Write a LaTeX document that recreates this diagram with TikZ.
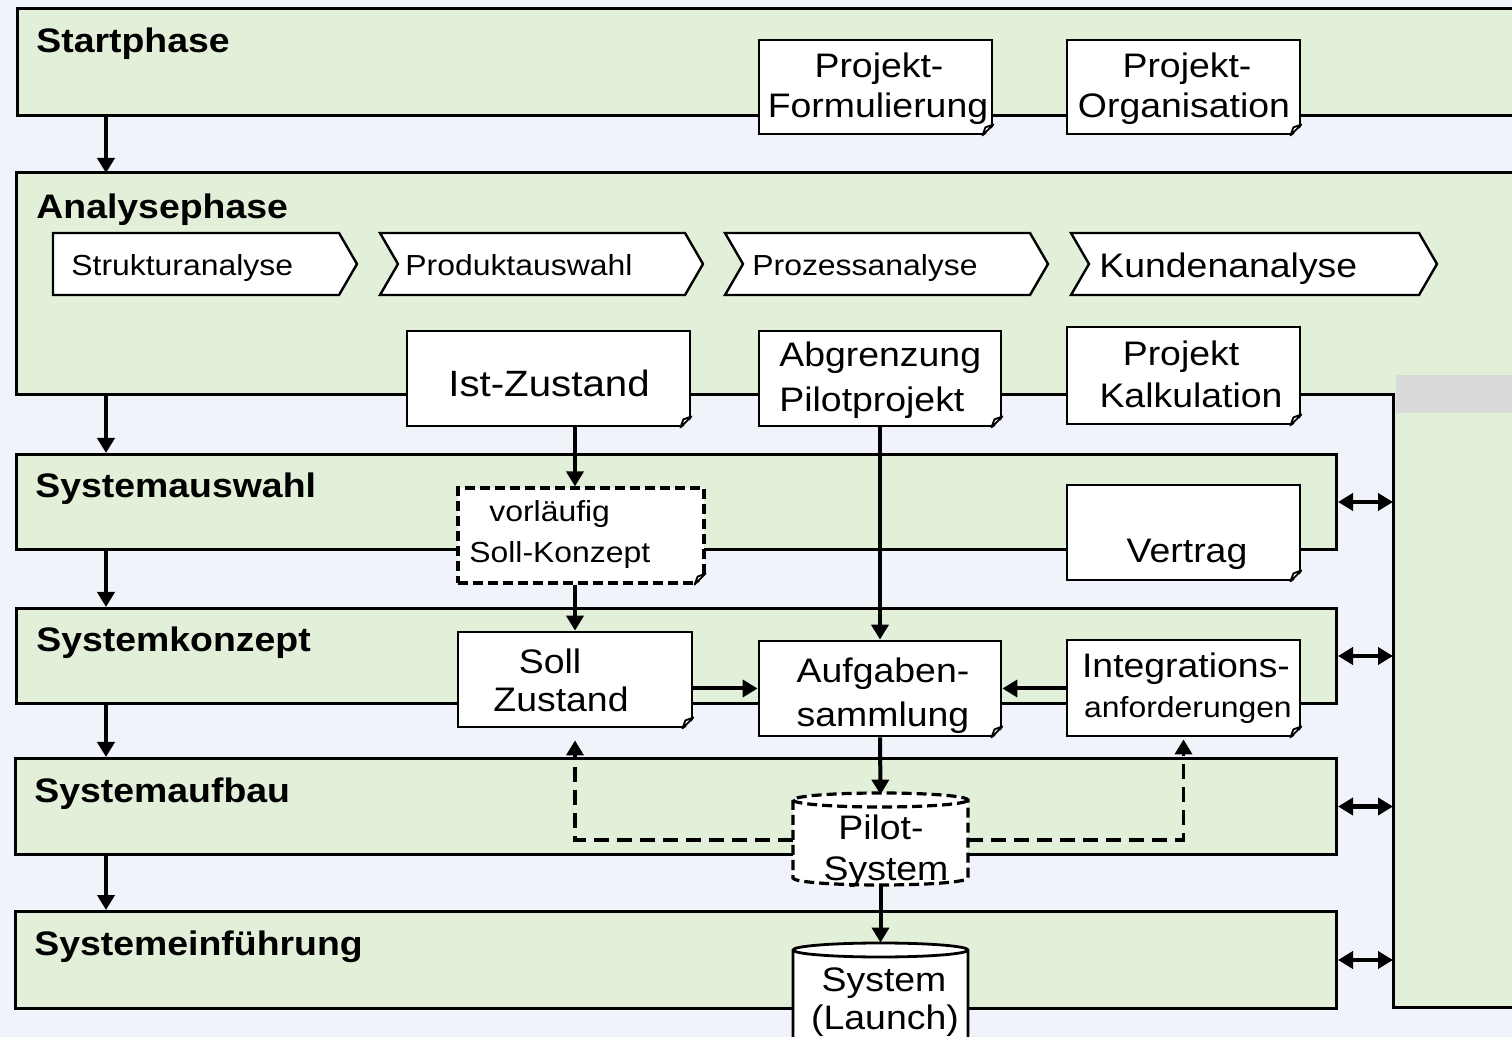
\documentclass[tikz,border=0pt]{standalone}
\usepackage{fontspec}
\setmainfont{Liberation Sans}[FakeStretch=1.1]
\usetikzlibrary{arrows.meta,calc}

\definecolor{bgblue}{RGB}{240,243,250}
\definecolor{panelgreen}{RGB}{226,239,217}
\definecolor{bandgray}{RGB}{217,217,217}

\newcommand\txtmain{\fontsize{17}{20}\selectfont}
\newcommand\txtsmall{\fontsize{14.5}{17}\selectfont}
\newcommand\txtbig{\fontsize{18.3}{22}\selectfont}
\newcommand\txttitle{\fontsize{17}{20}\selectfont\bfseries}

% folded page corner at the lower right of a document box
\newcommand\dogear[1]{%
  \fill[bgblue] ($(#1.south east)+(-11,2)$) -- ($(#1.south east)+(2,2)$) -- ($(#1.south east)+(2,-11)$) -- cycle;
  \filldraw[fill=white, line width=0.9pt, line join=round]
    ($(#1.south east)+(-11,0)$) -- ($(#1.south east)+(0,-11)$) -- ($(#1.south east)+(-8,-8)$) -- cycle;
}

\begin{document}
\begin{tikzpicture}[x=0.5pt, y=-0.5pt,
  panel/.style={draw=black, fill=panelgreen, line width=1.5pt, rectangle, inner sep=0pt, anchor=north west},
  hidden/.style={draw=none, fill=none, rectangle, inner sep=0pt},
  docbox/.style={draw=black, fill=white, line width=1.4pt, rectangle, inner sep=0pt},
  chevron/.style={draw=black, fill=white, line width=1.2pt, line join=miter},
  lbl/.style={inner sep=0pt, anchor=base, font=\txtmain},
  title/.style={inner sep=0pt, anchor=base west, font=\txttitle},
  tip/.style={},
  arr/.style={line width=2pt, -{Triangle[length=7.5pt,width=8.5pt]}},
  dbl/.style={line width=2.4pt, {Triangle[length=7.5pt,width=8.5pt]}-{Triangle[length=7.5pt,width=8.5pt]}},
  fb/.style={line width=1.8pt, dash pattern=on 7.5pt off 4pt, -{Triangle[length=7.5pt,width=8.5pt]}},
  dashbox/.style={line width=1.6pt, dash pattern=on 5pt off 2.5pt}
]
\useasboundingbox (0,0) rectangle (1512,1037);
\fill[bgblue] (0,0) rectangle (1512,1037);

% ---------- phase panels ----------
\node[panel, minimum width=762pt, minimum height=53.5pt] (start) at (16,7) {};

% analysis phase joined with the side column
\filldraw[fill=panelgreen, line width=1.5pt]
  (16,173) -- (1545,173) -- (1545,1007) -- (1393,1007) -- (1393,395) -- (16,395) -- cycle;
\fill[bandgray] (1396,375) rectangle (1545,413);
\node[hidden, anchor=north west, minimum width=688.5pt, minimum height=111pt] (an) at (16,173) {};
\node[hidden, anchor=north west, minimum width=76pt, minimum height=306pt] (side) at (1393,395) {};

\node[panel, minimum width=660pt, minimum height=47.5pt] (sa) at (15,453) {};
\node[panel, minimum width=660pt, minimum height=47.5pt] (sk) at (15,607) {};
\node[panel, minimum width=660.5pt, minimum height=48pt] (sb) at (14,757) {};
\node[panel, minimum width=660.5pt, minimum height=48.5pt] (se) at (14,910) {};

% ---------- phase titles ----------
\node[title] (tstart) at (36,53) {Startphase};
\node[title] (tan) at (36,219) {Analysephase};
\node[title] (tsa) at (35,498) {Systemauswahl};
\node[title] (tsk) at (36,652) {Systemkonzept};
\node[title] (tsb) at (34,803) {Systemaufbau};
\node[title] (tse) at (34,955) {Systemeinführung};

% ---------- analysis steps ----------
\draw[chevron] (53,233) -- (339,233) -- (357,264) -- (339,295) -- (53,295) -- cycle;
\draw[chevron] (380,233) -- (685,233) -- (703,264) -- (685,295) -- (380,295) -- (398,264) -- cycle;
\draw[chevron] (725,233) -- (1030,233) -- (1048,264) -- (1030,295) -- (725,295) -- (743,264) -- cycle;
\draw[chevron] (1071,233) -- (1419,233) -- (1437,264) -- (1419,295) -- (1071,295) -- (1089,264) -- cycle;
\node[lbl, anchor=base west, font=\txtsmall] (c1) at (71,276) {Strukturanalyse};
\node[lbl, anchor=base west, font=\txtsmall] (c2) at (405,276) {Produktauswahl};
\node[lbl, anchor=base west, font=\txtsmall] (c3) at (752,276) {Prozessanalyse};
\node[lbl, anchor=base west] (c4) at (1099,278) {Kundenanalyse};

% ---------- documents ----------
\node[docbox, minimum width=116.5pt, minimum height=47pt] (pform) at (875.5,87) {};
\node[docbox, minimum width=116.5pt, minimum height=47pt] (porg) at (1183.5,87) {};
\node[docbox, minimum width=141.5pt, minimum height=47.5pt] (ist) at (548.5,378.5) {};
\node[docbox, minimum width=121pt, minimum height=47.5pt] (abg) at (880,378.5) {};
\node[docbox, minimum width=116.5pt, minimum height=48.5pt] (kalk) at (1183.5,375.5) {};
\node[docbox, dashbox, minimum width=123pt, minimum height=47.5pt] (vor) at (581,535.5) {};
\node[docbox, minimum width=116.5pt, minimum height=47.5pt] (vertrag) at (1183.5,532.5) {};
\node[docbox, minimum width=117pt, minimum height=47.5pt] (soll) at (575,679.5) {};
\node[docbox, minimum width=121pt, minimum height=47.5pt] (aufg) at (880,688.5) {};
\node[docbox, minimum width=116.5pt, minimum height=48pt] (integ) at (1183.5,688) {};
\foreach \d in {pform,porg,ist,abg,kalk,vor,vertrag,soll,aufg,integ} {\dogear{\d}}

% ---------- databases ----------
\node[hidden, minimum width=87.5pt, minimum height=45pt] (pilot) at (880.5,840) {};
\filldraw[fill=white, dashbox]
  (793,800) -- (793,878) arc[start angle=180, end angle=360, x radius=43.75pt, y radius=3.5pt]
  -- (968,800) arc[start angle=0, end angle=180, x radius=43.75pt, y radius=3.5pt] -- cycle;
\draw[dashbox] (793,800) arc[start angle=180, end angle=360, x radius=43.75pt, y radius=3.5pt];

\node[hidden, minimum width=87.5pt, minimum height=57pt] (sys) at (880.5,1000) {};
\filldraw[fill=white, line width=1.4pt]
  (793,950) -- (793,1060) -- (968,1060) -- (968,950)
  arc[start angle=0, end angle=180, x radius=43.75pt, y radius=3.5pt] -- cycle;
\draw[line width=1.4pt] (793,950) arc[start angle=180, end angle=360, x radius=43.75pt, y radius=3.5pt];

% ---------- connectors ----------
\coordinate (lc) at (106,0);
\draw[arr] (start.south -| lc) -- (an.north -| lc);
\draw[arr] (an.south -| lc) -- (sa.north -| lc);
\draw[arr] (sa.south -| lc) -- (sk.north -| lc);
\draw[arr] (sk.south -| lc) -- (sb.north -| lc);
\draw[arr] (sb.south -| lc) -- (se.north -| lc);

\draw[dbl] (sa.east) -- (sa.east -| side.west);
\draw[dbl] (sk.east) -- (sk.east -| side.west);
\draw[dbl] (sb.east) -- (sb.east -| side.west);
\draw[dbl] (se.east) -- (se.east -| side.west);

\draw[arr] (ist.south -| soll.north) -- (vor.north -| soll.north);
\draw[arr] (vor.south -| soll.north) -- (soll.north);
\draw[arr] (abg.south) -- (aufg.north);
\draw[arr] (soll.east |- aufg.west) -- (aufg.west);
\draw[arr] (integ.west |- aufg.east) -- (aufg.east);
\draw[arr] (aufg.south) -- (pilot.north);
\draw[arr] (pilot.south) -- (sys.north);
\draw[fb, shorten >=6pt] (pilot.west) -| (soll.south);
\draw[fb, shorten >=1pt] (pilot.east) -| (integ.south);

% ---------- document texts ----------
\node[lbl] (pform1) at (879,78) {Projekt-};
\node[lbl] (pform2) at (878,118) {Formulierung};
\node[lbl] (porg1) at (1187,78) {Projekt-};
\node[lbl] (porg2) at (1184,118) {Organisation};
\node[lbl, font=\txtbig] (ist1) at (549,397) {Ist-Zustand};
\node[lbl, anchor=base west] (abg1) at (779,367) {Abgrenzung};
\node[lbl, anchor=base west] (abg2) at (779,412) {Pilotprojekt};
\node[lbl] (kalk1) at (1181,366) {Projekt};
\node[lbl] (kalk2) at (1191,408) {Kalkulation};
\node[lbl, anchor=base west, font=\txtsmall] (vor1) at (489,522) {vorläufig};
\node[lbl, anchor=base west, font=\txtsmall] (vor2) at (469,563) {Soll-Konzept};
\node[lbl] (vertrag1) at (1187,563) {Vertrag};
\node[lbl] (soll1) at (550,674) {Soll};
\node[lbl] (soll2) at (561,712) {Zustand};
\node[lbl] (aufg1) at (883,683) {Aufgaben-};
\node[lbl] (aufg2) at (883,727) {sammlung};
\node[lbl] (integ1) at (1186,678) {Integrations-};
\node[lbl, font=\txtsmall] (integ2) at (1188,718) {anforderungen};
\node[lbl] (pilot1) at (881,840) {Pilot-};
\node[lbl] (pilot2) at (886,880) {System};
\node[lbl] (sys1) at (884,991) {System};
\node[lbl] (sys2) at (885,1029) {(Launch)};
\end{tikzpicture}
\end{document}
